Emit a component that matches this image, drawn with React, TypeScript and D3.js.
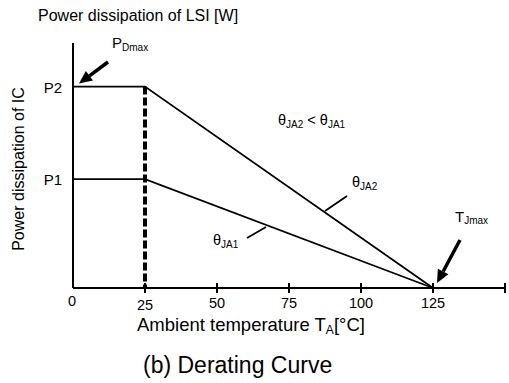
import React from "react";
import * as d3 from "d3";

// ---- data ----
const tickTemps = [25, 50, 75, 100, 125, 150];
const tickLabelTemps = [0, 25, 50, 75, 100, 125];
const curveTemps = [0, 25, 125];
const p2Curve = [1.85, 1.85, 0];
const p1Curve = [1.0, 1.0, 0];
const yTickValues = [1.0, 1.85];
const yTickLabels = ["P1", "P2"];
const kneeTemp = 25;
const tjMaxTemp = 125;

const W = 509;
const H = 383;
const FONT = "'Liberation Sans', Arial, Helvetica, sans-serif";

export default function App() {
  const x = d3.scaleLinear().domain([0, 150]).range([73, 505]);
  const y = d3.scaleLinear().domain([0, 2.25]).range([288, 43]);
  const line = d3
    .line<number>()
    .x((_, i) => x(curveTemps[i]))
    .y((d) => y(d));

  const arrow = (x1: number, y1: number, x2: number, y2: number, head = 13, half = 6) => {
    const ang = Math.atan2(y2 - y1, x2 - x1);
    const bx = x2 - head * Math.cos(ang);
    const by = y2 - head * Math.sin(ang);
    const px = -Math.sin(ang) * half;
    const py = Math.cos(ang) * half;
    return (
      <g>
        <line x1={x1} y1={y1} x2={bx} y2={by} stroke="#000" strokeWidth={3.5} />
        <polygon points={`${x2},${y2} ${bx + px},${by + py} ${bx - px},${by - py}`} fill="#000" />
      </g>
    );
  };

  return (
    <svg
      width={W}
      height={H}
      style={{ position: "absolute", left: 0, top: 0, background: "#fff" }}
      fontFamily={FONT}
    >
      {/* title */}
      <text x={38} y={21} fontSize={16}>Power dissipation of LSI [W]</text>

      {/* y label */}
      <text
        transform={`translate(24,169) rotate(-90)`}
        textAnchor="middle"
        fontSize={16}
      >
        Power dissipation of IC
      </text>

      {/* axes */}
      <line x1={x(0)} y1={y(2.25)} x2={x(0)} y2={y(0)} stroke="#000" strokeWidth={2} />
      <line x1={x(0)} y1={y(0)} x2={x(150)} y2={y(0)} stroke="#000" strokeWidth={2} />
      {tickTemps.map((t) => (
        <line key={t} x1={x(t)} x2={x(t)} y1={y(0) - 5} y2={y(0) + 5} stroke="#000" strokeWidth={2} />
      ))}
      {tickLabelTemps.map((t) => (
        <text key={t} x={x(t) - (t === 0 ? 1 : 0)} y={t === 0 ? 306 : t === 25 ? 310 : 308} textAnchor="middle" fontSize={14.5}>
          {t}
        </text>
      ))}
      {yTickValues.map((v, i) => (
        <text key={i} x={62} y={y(v) + 6} textAnchor="end" fontSize={15}>
          {yTickLabels[i]}
        </text>
      ))}

      {/* curves */}
      <path d={line(p2Curve) || ""} fill="none" stroke="#000" strokeWidth={1.8} />
      <path d={line(p1Curve) || ""} fill="none" stroke="#000" strokeWidth={1.8} />

      {/* dashed line at knee */}
      <line
        x1={x(kneeTemp)}
        x2={x(kneeTemp)}
        y1={y(p2Curve[1])}
        y2={y(0)}
        stroke="#000"
        strokeWidth={4}
        strokeDasharray="8,3"
      />

      {/* PDmax */}
      <text x={112} y={48} fontSize={15}>
        P<tspan fontSize={10} dy={3}>Dmax</tspan>
      </text>
      {arrow(108, 62, x(0) + 6, y(p2Curve[0]) - 3)}

      {/* TJmax */}
      <text x={455} y={222} fontSize={15}>
        T<tspan fontSize={10} dy={2}>Jmax</tspan>
      </text>
      {arrow(460, 240, x(tjMaxTemp) + 4, y(0) - 5)}

      {/* theta labels */}
      <text x={278} y={125} fontSize={14.5}>
        θ<tspan fontSize={10} dy={3}>JA2</tspan>
        <tspan dy={-3}> &lt; θ</tspan>
        <tspan fontSize={10} dy={3}>JA1</tspan>
      </text>
      <text x={352} y={187} fontSize={14.5}>
        θ<tspan fontSize={10} dy={3}>JA2</tspan>
      </text>
      <line x1={347} y1={196} x2={325} y2={211} stroke="#000" strokeWidth={1.8} />
      <text x={213} y={245} fontSize={14.5}>
        θ<tspan fontSize={10} dy={3}>JA1</tspan>
      </text>
      <line x1={247} y1={238} x2={266} y2={227} stroke="#000" strokeWidth={1.8} />

      {/* x label */}
      <text x={137} y={331} fontSize={18.5}>
        Ambient temperature T<tspan fontSize={12} dy={3}>A</tspan>
        <tspan dy={-3}>[°C]</tspan>
      </text>

      {/* caption */}
      <text x={143} y={373} fontSize={23}>(b) Derating Curve</text>
    </svg>
  );
}
